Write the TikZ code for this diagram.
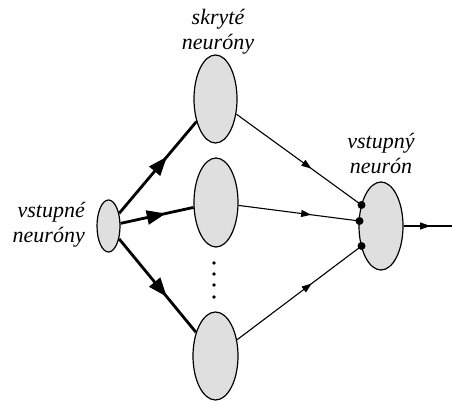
\documentclass[tikz,border=0pt]{standalone}
\usepackage{fontspec}
\newfontfamily\lblfont{Liberation Serif}
\usetikzlibrary{shapes.geometric,arrows.meta,decorations.markings}

\begin{document}
\begin{tikzpicture}[x=1pt,y=-1pt,
  neuron/.style={ellipse,draw,line width=1.2pt,fill=gray!25,inner sep=0pt},
  lbl/.style={font=\lblfont\fontsize{22}{25}\selectfont\itshape,align=center,inner sep=0pt},
  thickarc/.style={line width=2.8pt,postaction={decorate},decoration={markings,
    mark=at position 0.62 with {\arrow{Triangle[length=19pt,width=14pt]}}}},
  thinarc/.style={line width=1.1pt,postaction={decorate},decoration={markings,
    mark=at position 0.6 with {\arrow{Triangle[length=10pt,width=7pt]}}}}]
\useasboundingbox (0,0) rectangle (452,401);

\node[neuron,minimum width=23pt,minimum height=52pt] (in) at (108.5,226) {};
\node[neuron,minimum width=43pt,minimum height=88pt] (h1) at (215.5,99) {};
\node[neuron,minimum width=44pt,minimum height=89pt] (h2) at (216,202.5) {};
\node[neuron,minimum width=45pt,minimum height=88pt] (h3) at (215.5,356) {};
\node[neuron,minimum width=44pt,minimum height=88pt] (out) at (381,226) {};

\node[lbl,anchor=base] (skryte) at (218,50) {skryté\\neuróny};
\node[lbl,anchor=base east,align=right] (vstupne) at (85,242) {vstupné\\neuróny};
\node[lbl,anchor=base] (vystup) at (381,173) {vstupný\\neurón};

\coordinate (d1) at (361.5,205);
\coordinate (d2) at (359.5,221);
\coordinate (d3) at (361.5,246);
\coordinate (end) at (452,226);

\draw[thickarc] (in) -- (h1);
\draw[thickarc] (in) -- (h2);
\draw[thickarc] (in) -- (h3);

\draw[thinarc] (h1) -- (d1);
\draw[thinarc] (h2) -- (d2);
\draw[thinarc] (h3) -- (d3);
\draw[line width=1.1pt,postaction={decorate},decoration={markings,
    mark=at position 0.55 with {\arrow{Triangle[length=10pt,width=7pt]}}}] (out) -- (end);

\foreach \p in {d1,d2,d3}
  \fill (\p) circle (4pt);
\foreach \y in {263,274,285,297}
  \fill (214,\y) circle (1.8pt);
\end{tikzpicture}
\end{document}
